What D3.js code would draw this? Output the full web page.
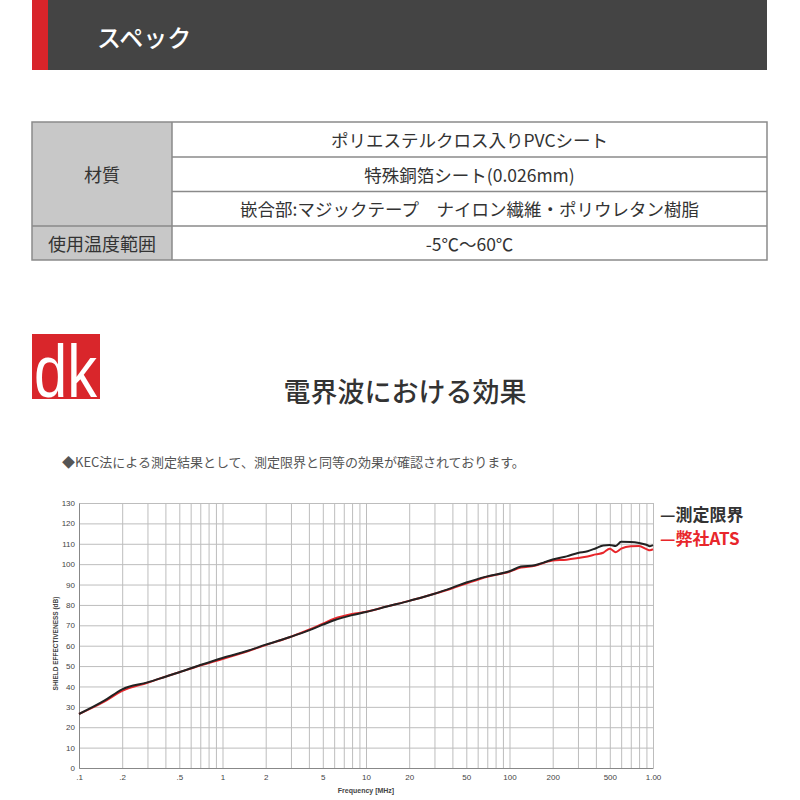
<!DOCTYPE html>
<html><head><meta charset="utf-8">
<script src="https://cdn.jsdelivr.net/npm/d3@7"></script>
<style>body{margin:0;background:#fff}svg{display:block}</style>
</head><body>
<svg id="c" width="800" height="800"></svg>
<script>
// ---- data ----
const headerTitle = "スペック";
const tableRows = [
  "ポリエステルクロス入りPVCシート",
  "特殊銅箔シート(0.026mm)",
  "嵌合部:マジックテープ　ナイロン繊維・ポリウレタン樹脂",
  "-5℃〜60℃"
];
const tableHeads = ["材質", "使用温度範囲"];
const chartTitle = "電界波における効果";
const note = "◆KEC法による測定結果として、測定限界と同等の効果が確認されております。";
const seriesNames = ["—測定限界", "—弊社ATS"];

const freq = [0.1,0.15,0.2,0.3,0.4,0.5,0.7,1,1.5,2,3,4,5,6,8,10,14,20,30,40,50,70,100,120,150,180,200,250,300,350,400,450,500,550,600,700,800,900,950,1000];
const limitVals = [26.5,33,38.6,42,44.8,47,50.5,54,57.5,60.5,64.4,67.5,70.3,72.5,75,76.5,79.2,82,85.5,88.5,91,94,96.5,98.8,99.5,101.2,102.3,103.8,105.5,106.3,107.8,109.2,109.4,108.9,111,110.9,110.4,109.5,108.8,109.3];
const atsVals   = [26.5,32.5,37.8,41.8,44.8,47,50.3,53.5,57.3,60.3,64.4,67.8,70.8,73.2,75.5,76.6,79.3,82,85.5,88.2,90.5,93.8,96.3,98.3,99.2,101,101.8,102.2,103,103.8,104.8,105.6,107.6,105.9,107.6,108.8,108.9,107.4,106.8,107.3];

const xTickVals = [0.1,0.2,0.5,1,2,5,10,20,50,100,200,500,1000];
const xTickLabels = [".1",".2",".5","1","2","5","10","20","50","100","200","500","1.00"];
const yTickVals = [0,10,20,30,40,50,60,70,80,90,100,110,120,130];

// ---- drawing ----
const svg = d3.select("#c");
const JP = "'Noto Sans CJK JP','Noto Sans',sans-serif";

// header bar
svg.append("rect").attr("x",32).attr("y",0).attr("width",735).attr("height",70).attr("fill","#444");
svg.append("rect").attr("x",32).attr("y",0).attr("width",16).attr("height",70).attr("fill","#d8242a");
svg.append("text").attr("x",97).attr("y",36).attr("dominant-baseline","central")
  .attr("font-family",JP).attr("font-size",24).attr("font-weight",500).attr("fill","#fff").text(headerTitle);

// table
const tL=32,tR=767,tM=172;
const rowY=[122,157,191.5,226,260];
svg.append("rect").attr("x",tL).attr("y",rowY[0]).attr("width",tM-tL).attr("height",rowY[4]-rowY[0]).attr("fill","#c8c8c8");
svg.append("rect").attr("x",tL).attr("y",rowY[0]).attr("width",tR-tL).attr("height",rowY[4]-rowY[0])
  .attr("fill","none").attr("stroke","#8a8a8a").attr("stroke-width",1.5);
svg.append("line").attr("x1",tM).attr("x2",tM).attr("y1",rowY[0]).attr("y2",rowY[4]).attr("stroke","#8a8a8a").attr("stroke-width",1.5);
[1,2].forEach(i=>svg.append("line").attr("x1",tM).attr("x2",tR).attr("y1",rowY[i]).attr("y2",rowY[i]).attr("stroke","#8a8a8a").attr("stroke-width",1.5));
svg.append("line").attr("x1",tL).attr("x2",tR).attr("y1",rowY[3]).attr("y2",rowY[3]).attr("stroke","#8a8a8a").attr("stroke-width",1.5);
tableRows.forEach((t,i)=>{
  svg.append("text").attr("x",(tM+tR)/2).attr("y",(rowY[i]+rowY[i+1])/2).attr("text-anchor","middle")
    .attr("dominant-baseline","central").attr("font-family",JP).attr("font-size",17.5).attr("fill","#333").text(t);
});
svg.append("text").attr("x",(tL+tM)/2).attr("y",(rowY[0]+rowY[3])/2).attr("text-anchor","middle")
  .attr("dominant-baseline","central").attr("font-family",JP).attr("font-size",18).attr("fill","#333").text(tableHeads[0]);
svg.append("text").attr("x",(tL+tM)/2).attr("y",(rowY[3]+rowY[4])/2).attr("text-anchor","middle")
  .attr("dominant-baseline","central").attr("font-family",JP).attr("font-size",18).attr("fill","#333").text(tableHeads[1]);

// logo
svg.append("rect").attr("x",32).attr("y",334).attr("width",68).attr("height",65).attr("fill","#d9262b");
svg.append("text").attr("x",34).attr("y",397).attr("font-family","'Liberation Sans',Arial,sans-serif")
  .attr("font-size",74).attr("fill","#fff").attr("textLength",63).attr("lengthAdjust","spacingAndGlyphs").text("dk");

// title + note
svg.append("text").attr("x",405).attr("y",390).attr("text-anchor","middle").attr("dominant-baseline","central")
  .attr("font-family",JP).attr("font-size",27).attr("font-weight",500).attr("fill","#333").text(chartTitle);
svg.append("text").attr("x",62).attr("y",461).attr("dominant-baseline","central")
  .attr("font-family",JP).attr("font-size",13).attr("fill","#555").text(note);

// chart
const L=79,R=653,T=503,B=768;
const x = d3.scaleLog().domain([0.1,1000]).range([L,R]);
const y = d3.scaleLinear().domain([0,130]).range([B,T]);

const minor = [];
for (let d=0.1; d<1000; d*=10) for (let k=1;k<=9;k++) minor.push(+(d*k).toPrecision(3));
minor.push(1000);

const grid = svg.append("g");
grid.append("g").attr("transform",`translate(0,${B})`)
  .call(d3.axisBottom(x).tickValues(minor).tickSize(-(B-T)).tickFormat(""))
  .call(g=>{g.select(".domain").remove(); g.selectAll("line").attr("stroke","#bdbdbd").attr("stroke-width",1);});
grid.append("g").attr("transform",`translate(${L},0)`)
  .call(d3.axisLeft(y).tickValues(yTickVals).tickSize(-(R-L)).tickFormat(""))
  .call(g=>{g.select(".domain").remove(); g.selectAll("line").attr("stroke","#bdbdbd").attr("stroke-width",1);});

// axes labels
svg.append("g").attr("transform",`translate(0,${B})`)
  .call(d3.axisBottom(x).tickValues(xTickVals).tickSize(0).tickPadding(6).tickFormat((d,i)=>xTickLabels[i]))
  .call(g=>{g.select(".domain").attr("stroke","#888"); g.selectAll("text").attr("font-family","'Liberation Sans',Arial,sans-serif").attr("font-size",8).attr("fill","#444");});
svg.append("g").attr("transform",`translate(${L},0)`)
  .call(d3.axisLeft(y).tickValues(yTickVals).tickSize(0).tickPadding(4))
  .call(g=>{g.select(".domain").attr("stroke","#888"); g.selectAll("text").attr("font-family","'Liberation Sans',Arial,sans-serif").attr("font-size",8).attr("fill","#444");});

svg.append("text").attr("x",(L+R)/2).attr("y",790).attr("text-anchor","middle").attr("dominant-baseline","central")
  .attr("font-family","'Liberation Sans',Arial,sans-serif").attr("font-size",7).attr("font-weight","bold").attr("fill","#444").text("Frequency  [MHz]");
svg.append("text").attr("transform",`translate(55,${(T+B)/2+8}) rotate(-90)`).attr("text-anchor","middle").attr("dominant-baseline","central")
  .attr("font-family","'Liberation Sans',Arial,sans-serif").attr("font-size",6.5).attr("font-weight","bold").attr("fill","#444").text("SHIELD EFFECTIVENESS  (dB)");

const line = vals => d3.line().x((d,i)=>x(freq[i])).y(d=>y(d)).curve(d3.curveMonotoneX)(vals);
svg.append("path").attr("d",line(atsVals)).attr("fill","none").attr("stroke","#e8262b").attr("stroke-width",2);
svg.append("path").attr("d",line(limitVals)).attr("fill","none").attr("stroke","#222").attr("stroke-width",2);

// legend
svg.append("text").attr("x",660).attr("y",513).attr("dominant-baseline","central")
  .attr("font-family",JP).attr("font-size",17).attr("font-weight","bold").attr("fill","#333").text(seriesNames[0]);
svg.append("text").attr("x",660).attr("y",537).attr("dominant-baseline","central")
  .attr("font-family",JP).attr("font-size",17).attr("font-weight","bold").attr("fill","#e8262b").text(seriesNames[1]);
</script>
</body></html>
